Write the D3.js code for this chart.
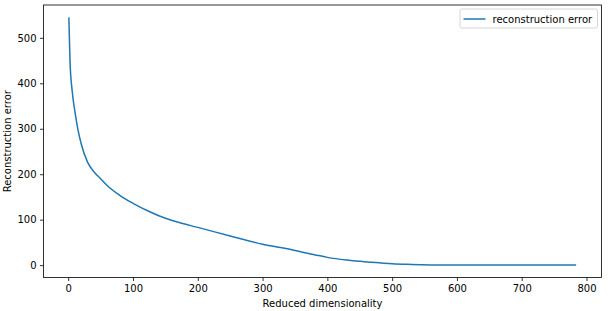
<!DOCTYPE html>
<meta charset="utf-8">
<style>
  body { margin: 0; background: #fff; }
  text { font-family: "DejaVu Sans", sans-serif; }
</style>
<script src="https://d3js.org/d3.v7.min.js"></script>
<svg id="chart" width="610" height="311"></svg>
<script>
// values
const dims = [1, 2, 3, 4, 6, 8, 10, 15, 20, 30, 40, 50, 60, 80, 100, 125, 150, 175, 200, 250, 300, 330, 360, 380, 400, 430, 460, 480, 500, 530, 560, 600, 700, 784];
const errors = [545, 490, 440, 415, 385, 360, 341, 298, 267, 226, 205, 190, 175, 153, 136, 118, 103, 92, 83, 64, 46, 38, 29, 23, 17, 11, 7, 5, 3, 1.5, 0.5, 0.1, 0, 0];
const xTicks = [0, 100, 200, 300, 400, 500, 600, 700, 800];
const yTicks = [0, 100, 200, 300, 400, 500];

const svg = d3.select("#chart");
const mLeft = 43.5, mRight = 601.5, mTop = 5, mBottom = 277.5;

// matplotlib style 5% margins
const xPad = (784 - 1) * 0.05, yPad = 545 * 0.05;
const x = d3.scaleLinear().domain([1 - xPad, 784 + xPad]).range([mLeft, mRight]);
const y = d3.scaleLinear().domain([0 - yPad, 545 + yPad]).range([mBottom, mTop]);

const xAxis = svg.append("g")
    .attr("transform", `translate(0,${mBottom})`)
    .call(d3.axisBottom(x).tickValues(xTicks).tickSize(3.5).tickPadding(3.5));
const yAxis = svg.append("g")
    .attr("transform", `translate(${mLeft},0)`)
    .call(d3.axisLeft(y).tickValues(yTicks).tickSize(3.5).tickPadding(3.5));

[xAxis, yAxis].forEach(a => {
  a.select(".domain").remove();
  a.selectAll("line").attr("stroke", "#000").attr("stroke-width", 0.8);
  a.selectAll("text").attr("font-size", 10).attr("fill", "#000")
    .style("font-family", "DejaVu Sans, sans-serif");
});

// frame
svg.append("rect")
    .attr("x", mLeft).attr("y", mTop)
    .attr("width", mRight - mLeft).attr("height", mBottom - mTop)
    .attr("fill", "none").attr("stroke", "#000").attr("stroke-width", 0.8);

const points = dims.map((d, i) => [d, errors[i]]);
svg.append("path")
    .datum(points)
    .attr("fill", "none")
    .attr("stroke", "#1f77b4")
    .attr("stroke-width", 1.5)
    .attr("d", d3.line().x(d => x(d[0])).y(d => y(d[1])).curve(d3.curveMonotoneX));

// axis labels
svg.append("text")
    .attr("x", (mLeft + mRight) / 2).attr("y", 307)
    .attr("text-anchor", "middle").attr("font-size", 10)
    .text("Reduced dimensionality");
svg.append("text")
    .attr("transform", `translate(11,${(mTop + mBottom) / 2}) rotate(-90)`)
    .attr("text-anchor", "middle").attr("font-size", 10)
    .text("Reconstruction error");

// legend
const legend = svg.append("g").attr("transform", "translate(460,9)");
legend.append("rect")
    .attr("width", 137.5).attr("height", 19).attr("rx", 2)
    .attr("fill", "#fff").attr("stroke", "#ccc").attr("stroke-width", 0.8);
legend.append("line")
    .attr("x1", 3.5).attr("x2", 25.5).attr("y1", 10).attr("y2", 10)
    .attr("stroke", "#1f77b4").attr("stroke-width", 1.5);
legend.append("text")
    .attr("x", 32.5).attr("y", 13.5).attr("font-size", 10)
    .text("reconstruction error");
</script>
